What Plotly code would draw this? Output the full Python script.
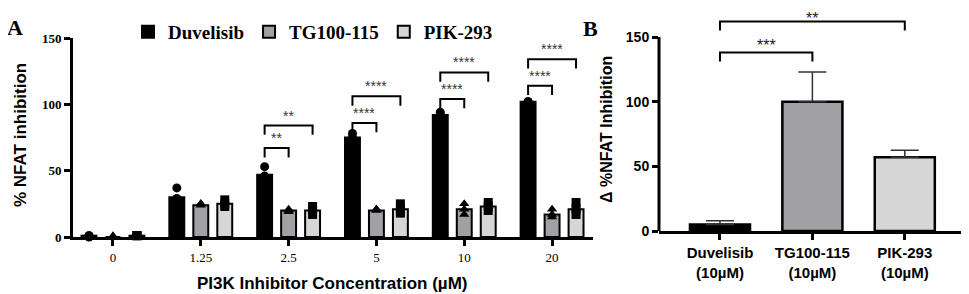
import plotly.graph_objects as go
import numpy as np

# ---------------- Panel A data ----------------
conc = ["0", "1.25", "2.5", "5", "10", "20"]
series_names = ["Duvelisib", "TG100-115", "PIK-293"]
duv_mean = [1, 30, 47, 75, 92, 102]
tg_mean = [0, 24, 20, 20, 21, 17]
pik_mean = [1, 25, 20, 21, 23, 21]
duv_pts = [[0, 1, 1], [37, 29, 27], [53, 46, 43], [78, 75, 73], [94, 92, 91], [102, 102, 101]]
tg_pts = [[0, 0, 1], [25, 25, 24], [21, 20, 19], [21, 21, 20], [25, 21, 17], [21, 17, 15]]
pik_pts = [[1, 1, 1], [28, 25, 23], [23, 20, 17], [25, 21, 18], [26, 23, 20], [26, 21, 17]]
a_yticks = [0, 50, 100, 150]

# significance brackets, panel A: (group, second series index, height, label)
sig_a_group = ["2.5", "2.5", "5", "5", "10", "10", "20", "20"]
sig_a_to = [1, 2, 1, 2, 1, 2, 1, 2]
sig_a_y = [67, 84, 86, 106, 104, 124, 114, 134]
sig_a_label = ["**", "**", "****", "****", "****", "****", "****", "****"]

# ---------------- Panel B data ----------------
b_cats = ["Duvelisib<br>(10µM)", "TG100-115<br>(10µM)", "PIK-293<br>(10µM)"]
b_vals = [5, 100, 57]
b_err = [3, 23, 5.5]
b_yticks = [0, 50, 100, 150]
sig_b_from = [0, 0]
sig_b_to = [1, 2]
sig_b_y = [138, 162]
sig_b_label = ["***", "**"]

# ---------------- styles / layout helpers ----------------
W, H = 969, 294
OFF = 8  # page body margin of the browser


def px_x(p):
    return (p - OFF) / W


def px_y(p):
    return 1 - (p - OFF) / H


fills = ["#000000", "#a1a0a5", "#d6d6d6"]
symbols = ["circle", "triangle-up", "square"]
offsets = [-0.273, 0.0, 0.273]
bar_w = 0.17
sig_b_shift = [7, 3]  # label lift in px (top one kept inside the page)
SERIF = "Liberation Serif"
SANS = "Liberation Sans"

# panel B vertical scale: 0 at 231 px, 150 at 37 px, plot top at page pixel OFF
b_scale = (231 - 37) / 150.0
b_top = (231 - OFF) / b_scale

fig = go.Figure()
idx = np.arange(len(conc))
means = [duv_mean, tg_mean, pik_mean]
pts = [duv_pts, tg_pts, pik_pts]

for s in range(3):
    fig.add_trace(go.Bar(
        x=idx + offsets[s], y=means[s], width=bar_w, name=series_names[s],
        marker=dict(color=fills[s], line=dict(color="black", width=2)),
        xaxis="x", yaxis="y", showlegend=True,
    ))
for s in range(3):
    xs, ys = [], []
    for i, g in enumerate(pts[s]):
        for v in g:
            xs.append(idx[i] + offsets[s])
            ys.append(v)
    fig.add_trace(go.Scatter(
        x=xs, y=ys, mode="markers", showlegend=False, cliponaxis=False,
        marker=dict(symbol=symbols[s], color="black", size=9),
        xaxis="x", yaxis="y",
    ))

# Panel B bars
bidx = np.arange(len(b_cats))
fig.add_trace(go.Bar(
    x=bidx, y=b_vals, width=0.65, showlegend=False,
    marker=dict(color=fills, line=dict(color="black", width=2.5)),
    error_y=dict(type="data", symmetric=False, array=b_err,
                 arrayminus=[0] * len(b_err), color="#333333",
                 thickness=1.5, width=14),
    xaxis="x2", yaxis="y2",
))

shapes = []
annotations = []
leg = 7
for g, t, y, lab in zip(sig_a_group, sig_a_to, sig_a_y, sig_a_label):
    i = conc.index(g)
    x0 = i + offsets[0]
    x1 = i + offsets[t]
    shapes.append(dict(type="path", xref="x", yref="y",
                       path=f"M {x0},{y-leg} L {x0},{y} L {x1},{y} L {x1},{y-leg}",
                       line=dict(color="black", width=2)))
    annotations.append(dict(x=(x0 + x1) / 2, y=y, xref="x", yref="y", text=lab,
                            showarrow=False, yshift=10, xanchor="center", yanchor="middle",
                            font=dict(family=SANS, size=14, color="#333333")))

for f, t, y, lab, sh in zip(sig_b_from, sig_b_to, sig_b_y, sig_b_label, sig_b_shift):
    x0, x1 = bidx[f], bidx[t]
    shapes.append(dict(type="path", xref="x2", yref="y2",
                       path=f"M {x0},{y-leg} L {x0},{y} L {x1},{y} L {x1},{y-leg}",
                       line=dict(color="black", width=2)))
    annotations.append(dict(x=(x0 + x1) / 2, y=y, xref="x2", yref="y2", text=lab,
                            showarrow=False, yshift=sh, xanchor="center", yanchor="middle",
                            font=dict(family=SANS, size=16, color="#222222")))

# B y-axis line only up to 150
shapes.append(dict(type="line", xref="x2 domain", yref="y2", x0=0, x1=0, y0=0, y1=150,
                   line=dict(color="black", width=3)))

# titles / panel labels
annotations += [
    dict(text="A", x=px_x(15), y=px_y(28), xref="paper", yref="paper", showarrow=False,
         xanchor="center", yanchor="middle",
         font=dict(family=SERIF, size=22, color="black", weight="bold")),
    dict(text="B", x=px_x(590), y=px_y(29), xref="paper", yref="paper", showarrow=False,
         xanchor="center", yanchor="middle",
         font=dict(family=SERIF, size=22, color="black", weight="bold")),
    dict(text="% NFAT inhibition", x=px_x(21), y=px_y(135), xref="paper", yref="paper",
         showarrow=False, textangle=-90, xanchor="center", yanchor="middle",
         font=dict(family=SANS, size=17, color="black", weight="bold")),
    dict(text="PI3K Inhibitor Concentration (µM)", x=px_x(332), y=px_y(283),
         xref="paper", yref="paper", showarrow=False, xanchor="center", yanchor="middle",
         font=dict(family=SANS, size=17, color="black", weight="bold")),
    dict(text="Δ %NFAT Inhibition", x=px_x(606), y=px_y(130), xref="paper", yref="paper",
         showarrow=False, textangle=-90, xanchor="center", yanchor="middle",
         font=dict(family=SANS, size=16, color="black", weight="bold")),
]

fig.update_layout(
    width=W, height=H,
    margin=dict(l=0, r=0, t=0, b=0, autoexpand=False),
    paper_bgcolor="white", plot_bgcolor="white",
    barmode="overlay",
    showlegend=True,
    legend=dict(orientation="h", x=px_x(128), y=px_y(32), xanchor="left", yanchor="middle",
                font=dict(family=SERIF, size=19, color="black", weight="bold"),
                itemwidth=30, tracegroupgap=0, bgcolor="rgba(0,0,0,0)"),
    xaxis=dict(domain=[px_x(73), px_x(593)], range=[-0.455, 5.466],
               tickvals=list(idx), ticktext=conc, showline=True, linecolor="black",
               linewidth=3, ticks="outside", ticklen=6, tickwidth=2.5, tickcolor="black",
               showgrid=False, zeroline=False, automargin=False,
               tickfont=dict(family=SERIF, size=13, color="black")),
    yaxis=dict(domain=[px_y(237), px_y(38)], range=[0, 150],
               tickvals=a_yticks, showline=True, linecolor="black", linewidth=3,
               ticks="outside", ticklen=6, tickwidth=2.5, tickcolor="black",
               showgrid=False, zeroline=False, automargin=False,
               tickfont=dict(family=SERIF, size=13, color="black", weight="bold")),
    xaxis2=dict(domain=[px_x(659), px_x(963)], range=[-0.66, 2.63],
                tickvals=list(bidx), ticktext=b_cats, showline=True, linecolor="black",
                linewidth=3, ticks="outside", ticklen=6, tickwidth=2.5, tickcolor="black",
                showgrid=False, zeroline=False, anchor="y2", automargin=False,
                tickfont=dict(family=SANS, size=15, color="black", weight="bold")),
    yaxis2=dict(domain=[px_y(231), 1.0], range=[0, b_top],
                tickvals=b_yticks, showline=False,
                ticks="outside", ticklen=6, tickwidth=2.5, tickcolor="black",
                showgrid=False, zeroline=False, anchor="x2", automargin=False,
                tickfont=dict(family=SANS, size=14, color="black", weight="bold")),
    shapes=shapes,
    annotations=annotations,
)

fig.write_html("out.html")
